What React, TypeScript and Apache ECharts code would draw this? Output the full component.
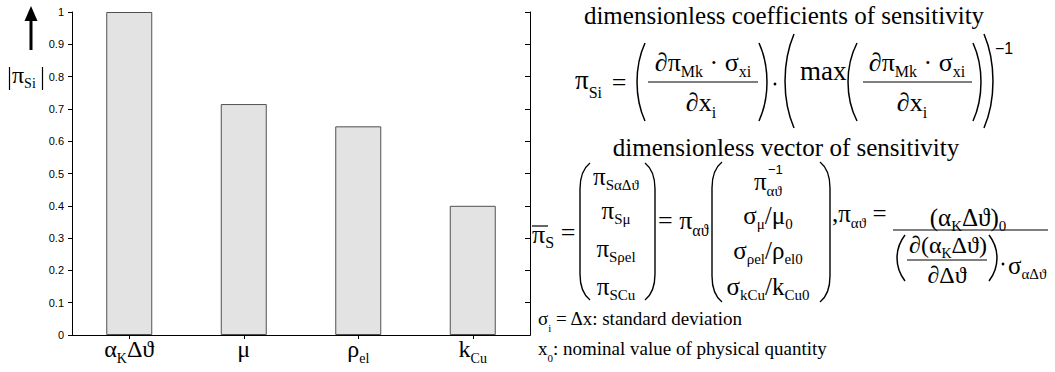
import React, { useEffect, useRef } from 'react';
import * as echarts from 'echarts';

// ---------- data ----------
const categories = ['α_{K}Δϑ', 'μ', 'ρ_{el}', 'k_{Cu}'];
const sensitivity = [1.0, 0.715, 0.646, 0.4];
const yMin = 0;
const yMax = 1;
const yInterval = 0.1;

const title1 = 'dimensionless coefficients of sensitivity';
const title2 = 'dimensionless vector of sensitivity';
const note1 = 'σ_{i} = Δx: standard deviation';
const note2 = 'x_{0}: nominal value of physical quantity';
const vectorLeft = ['π_{SαΔϑ}', 'π_{Sμ}', 'π_{Sρel}', 'π_{SCu}'];
const vectorRight = ['σ_{μ}/μ_{0}', 'σ_{ρel}/ρ_{el0}', 'σ_{kCu}/k_{Cu0}'];

const SERIF = 'Liberation Serif';
const SANS = 'Arial';
const BLACK = '#000';
const SERIF_INK = '#010101'; // marks serif texts for the stylesheet below

const css = `svg text[fill="${SERIF_INK}"], svg tspan[fill="${SERIF_INK}"] { font-family: "Liberation Serif", "Times New Roman", serif !important; }`;

function toRich(s: string): string {
  let out = '';
  let buf = '';
  let i = 0;
  const flush = () => {
    if (buf) {
      out += `{m|${buf}}`;
      buf = '';
    }
  };
  while (i < s.length) {
    const c = s[i];
    if ((c === '_' || c === '^') && s[i + 1] === '{') {
      flush();
      const end = s.indexOf('}', i + 2);
      out += `{${c === '_' ? 's' : 'p'}|${s.slice(i + 2, end)}}`;
      i = end + 1;
    } else {
      buf += c;
      i++;
    }
  }
  flush();
  return out;
}

type RO = { sub?: number; drop?: number; rise?: number; B0?: number; axis?: boolean };

function richStyles(fs: number, o: RO) {
  const sub = o.sub ?? 0.6;
  const drop = o.drop ?? 0.28;
  const rise = o.rise ?? 0.42;
  const fsS = Math.round(fs * sub);
  const B0 = o.B0 ?? 1.3 * fs;
  const K = 0.8;
  const mk = (size: number, off: number) => {
    const pad = [Math.round(Math.max(0, B0 + off - K * size)), 0, 0, 0];
    if (o.axis) {
      return { fontFamily: SERIF, fontSize: size, height: size, verticalAlign: 'top', padding: pad, color: SERIF_INK };
    }
    return { fontFamily: SERIF, fontSize: size, height: size, verticalAlign: 'top', padding: pad, fill: SERIF_INK };
  };
  return { m: mk(fs, 0), s: mk(fsS, drop * fs), p: mk(fsS, -rise * fs) };
}

function mtext(markup: string, x: number, baseline: number, fs: number, align = 'left', o: RO = {}) {
  const B0 = 1.3 * fs;
  return {
    type: 'text',
    x,
    y: Math.round(baseline - B0),
    style: {
      text: toRich(markup),
      align,
      verticalAlign: 'top',
      fill: SERIF_INK,
      rich: richStyles(fs, { ...o, B0 }),
    },
  };
}

function plain(t: string, x: number, y: number, fs: number, align = 'left') {
  return {
    type: 'text',
    x,
    y,
    style: { text: t, fontFamily: SANS, fontSize: fs, fill: BLACK, align, verticalAlign: 'middle' },
  };
}

const LS = { stroke: BLACK, lineWidth: 1.5, fill: 'none' };

function paren(xl: number, xr: number, top: number, bottom: number, side: 'L' | 'R', lw = 1.5) {
  const w = xr - xl;
  const h = bottom - top;
  const tip = side === 'L' ? xr : xl;
  const bulge = side === 'L' ? xl - 0.33 * w : xr + 0.33 * w;
  return {
    type: 'bezierCurve',
    shape: { x1: tip, y1: top, cpx1: bulge, cpy1: top + 0.3 * h, cpx2: bulge, cpy2: bottom - 0.3 * h, x2: tip, y2: bottom },
    style: { ...LS, lineWidth: lw },
  };
}

function bigParen(xl: number, xr: number, top: number, bottom: number, side: 'L' | 'R', c = 26) {
  const tip = side === 'L' ? xr : xl;
  const edge = side === 'L' ? xl : xr;
  const st = { ...LS, lineWidth: 1.4 };
  return [
    { type: 'bezierCurve', shape: { x1: tip, y1: top, cpx1: edge, cpy1: top + c * 0.3, x2: edge, y2: top + c }, style: st },
    { type: 'line', shape: { x1: edge, y1: top + c, x2: edge, y2: bottom - c }, style: st },
    { type: 'bezierCurve', shape: { x1: edge, y1: bottom - c, cpx1: edge, cpy1: bottom - c * 0.3, x2: tip, y2: bottom }, style: st },
  ];
}

function hline(x1: number, x2: number, y: number, lw = 1.2) {
  return { type: 'line', shape: { x1, y1: y, x2, y2: y }, style: { stroke: BLACK, lineWidth: lw } };
}

function dot(x: number, y: number) {
  return { type: 'circle', shape: { cx: x, cy: y, r: 1.4 }, style: { fill: BLACK } };
}

function buildGraphics() {
  const g: any[] = [];
  // arrow and axis name
  g.push({ type: 'rect', shape: { x: 29.5, y: 19, width: 3, height: 31 }, style: { fill: BLACK } });
  g.push({ type: 'polygon', shape: { points: [[24.5, 21], [31, 6], [37.5, 21]] }, style: { fill: BLACK } });
  g.push({ type: 'line', shape: { x1: 9.5, y1: 67, x2: 9.5, y2: 90 }, style: { stroke: BLACK, lineWidth: 1.2 } });
  g.push({ type: 'line', shape: { x1: 42.5, y1: 67, x2: 42.5, y2: 90 }, style: { stroke: BLACK, lineWidth: 1.2 } });
  g.push(mtext('π_{Si}', 12, 82, 24, 'left', { sub: 0.58, drop: 0.22 }));

  // titles
  g.push(mtext(title1, 784, 22, 25, 'center'));
  g.push(mtext(title2, 786, 154, 25, 'center'));

  // formula 1
  g.push(mtext('π_{Si}', 575, 87, 27, 'left', { drop: 0.35 }));
  g.push(mtext('=', 619, 90, 26, 'center'));
  g.push(paren(637, 645, 43, 121, 'L'));
  g.push(mtext('∂π_{Mk} · σ_{xi}', 703, 70, 26, 'center', { drop: 0.22 }));
  g.push(hline(648, 758, 82));
  g.push(mtext('∂x_{i}', 701, 110, 26, 'center', { drop: 0.25 }));
  g.push(paren(759, 767, 43, 121, 'R'));
  g.push(dot(775, 84));
  g.push(paren(785, 794, 34, 128, 'L'));
  g.push(mtext('max', 800, 78, 27, 'left'));
  g.push(paren(848, 857, 43, 121, 'L'));
  g.push(mtext('∂π_{Mk} · σ_{xi}', 917, 70, 26, 'center', { drop: 0.22 }));
  g.push(hline(863, 972, 82));
  g.push(mtext('∂x_{i}', 912, 110, 26, 'center', { drop: 0.25 }));
  g.push(paren(973, 981, 43, 121, 'R'));
  g.push(paren(984, 993, 34, 128, 'R'));
  g.push(plain('−1', 995, 48, 16));

  // formula 2 (vector)
  g.push(mtext('π_{S}', 532, 242, 26, 'left', { drop: 0.2 }));
  g.push(hline(532, 548, 226));
  g.push(mtext('=', 568, 240, 26, 'center'));
  g.push(...bigParen(580, 590, 163, 300, 'L'));
  const rowsL = [183, 217, 255, 293];
  vectorLeft.forEach((t, i) => g.push(mtext(t, 616, rowsL[i], 25, 'center', { drop: 0.22 })));
  g.push(...bigParen(645, 655, 163, 300, 'R'));
  g.push(mtext('= π_{αϑ}', 658, 228, 26, 'left', { drop: 0.25 }));
  g.push(...bigParen(712, 722, 162, 302, 'L'));
  g.push(mtext('π_{αϑ}', 754, 188, 25, 'left', { drop: 0.25 }));
  g.push(plain('−1', 768, 169, 13));
  const rowsR = [222, 257, 293];
  vectorRight.forEach((t, i) => g.push(mtext(t, 768, rowsR[i], 25, 'center', { drop: 0.22 })));
  g.push(...bigParen(820, 830, 162, 302, 'R'));
  g.push(mtext(',π_{αϑ} =', 832, 220, 25, 'left', { drop: 0.25 }));
  g.push(mtext('(α_{K}Δϑ)_{0}', 968, 224, 25, 'center', { drop: 0.22 }));
  g.push(hline(893, 1048, 230));
  g.push(paren(897, 905, 235, 281, 'L'));
  g.push(mtext('∂(α_{K}Δϑ)', 948, 252, 24, 'center', { drop: 0.22 }));
  g.push(hline(907, 987, 260));
  g.push(mtext('∂Δϑ', 947, 282, 24, 'center'));
  g.push(paren(989, 997, 235, 281, 'R'));
  g.push(dot(1003, 264));
  g.push(mtext('σ_{αΔϑ}', 1008, 272, 25, 'left', { drop: 0.22 }));

  // notes
  g.push(mtext(note1, 538, 325, 19, 'left', { drop: 0.3 }));
  g.push(mtext(note2, 538, 355, 19, 'left', { drop: 0.3 }));
  return g;
}

export default function App() {
  const ref = useRef<HTMLDivElement>(null);
  useEffect(() => {
    if (!ref.current) return;
    const chart = echarts.init(ref.current, undefined, { renderer: 'svg' });
    const axisRich = richStyles(24, { B0: 21, drop: 0.25, axis: true });
    const axisLineStyle = { color: BLACK, width: 1 };
    chart.setOption({
      animation: false,
      grid: { left: 72, right: 525, top: 12, bottom: 37 },
      xAxis: [
        {
          type: 'category',
          data: categories,
          position: 'bottom',
          axisLine: { show: true, lineStyle: axisLineStyle },
          axisTick: { show: false },
          axisLabel: { margin: 0, interval: 0, color: SERIF_INK, formatter: (v: string) => toRich(v), rich: axisRich },
        },
        {
          type: 'category',
          data: categories,
          position: 'top',
          axisLine: { show: true, lineStyle: axisLineStyle },
          axisTick: { show: true, inside: true, alignWithLabel: true, length: 4, lineStyle: axisLineStyle },
          axisLabel: { show: false },
        },
      ],
      yAxis: [
        {
          type: 'value',
          min: yMin,
          max: yMax,
          interval: yInterval,
          position: 'left',
          axisLine: { show: true, lineStyle: axisLineStyle },
          axisTick: { show: true, inside: false, length: 4, lineStyle: axisLineStyle },
          axisLabel: { fontSize: 11, color: BLACK, margin: 8 },
          splitLine: { show: false },
        },
        {
          type: 'value',
          min: yMin,
          max: yMax,
          interval: yInterval,
          position: 'right',
          axisLine: { show: true, lineStyle: axisLineStyle },
          axisTick: { show: true, inside: true, length: 5, lineStyle: axisLineStyle },
          axisLabel: { show: false },
          splitLine: { show: false },
        },
      ],
      series: [
        {
          type: 'bar',
          data: sensitivity,
          xAxisIndex: 0,
          yAxisIndex: 0,
          barWidth: 46,
          itemStyle: { color: '#e3e3e3', borderColor: '#505050', borderWidth: 1 },
        },
      ],
      graphic: { elements: buildGraphics() },
    });
    return () => chart.dispose();
  }, []);
  return (
    <>
      <style>{css}</style>
      <div
        ref={ref}
        style={{ position: 'fixed', left: 0, top: 0, width: 1055, height: 372, background: '#fff' }}
      />
    </>
  );
}
